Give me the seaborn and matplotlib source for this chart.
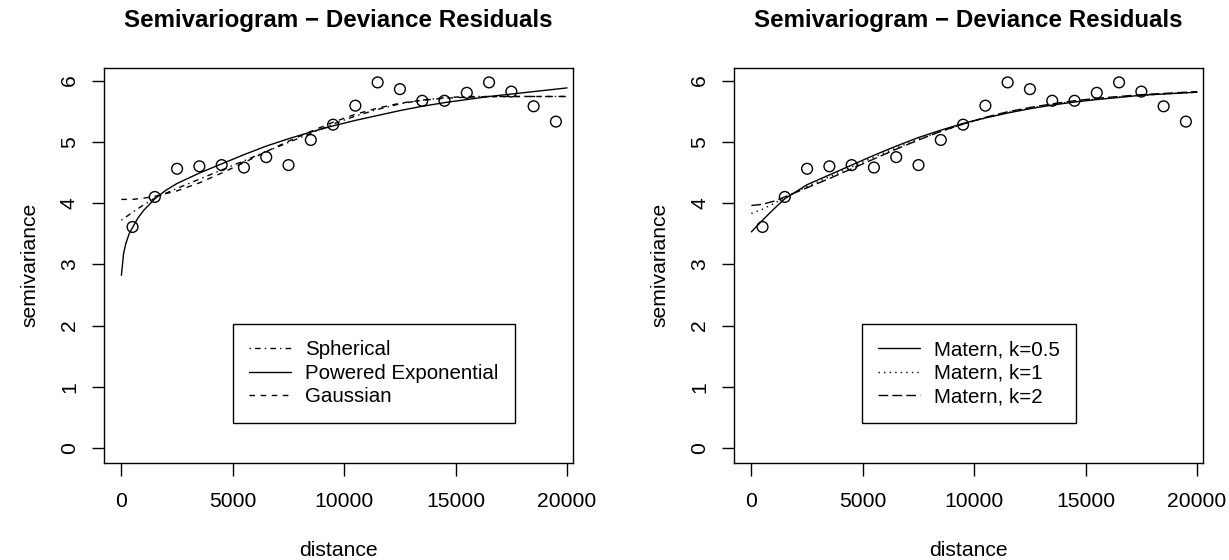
import numpy as np
import pandas as pd
import matplotlib
matplotlib.use("Agg")
import matplotlib.pyplot as plt
import seaborn as sns

# ---------------- data ----------------
dist = [500, 1500, 2500, 3500, 4500, 5500, 6500, 7500, 8500, 9500,
        10500, 11500, 12500, 13500, 14500, 15500, 16500, 17500, 18500, 19500]
semivar = [3.61, 4.10, 4.56, 4.60, 4.62, 4.58, 4.75, 4.62, 5.03, 5.28,
           5.59, 5.97, 5.86, 5.67, 5.67, 5.80, 5.97, 5.82, 5.58, 5.33]

# left panel fitted curves
powexp_x = [0, 100, 200, 350, 500, 750, 1000, 1500, 2000, 2500, 3500, 4500, 5500,
            6500, 7500, 8500, 9500, 10500, 11500, 12500, 13500, 14500, 15500,
            16500, 17500, 18500, 20000]
powexp_y = [2.82, 3.18, 3.34, 3.50, 3.60, 3.76, 3.88, 4.07, 4.21, 4.32, 4.49, 4.64, 4.79,
            4.93, 5.05, 5.16, 5.26, 5.35, 5.43, 5.51, 5.58, 5.64, 5.69,
            5.74, 5.78, 5.82, 5.88]

spher_x = [0, 500, 1000, 1500, 2500, 3500, 4500, 5500, 6500, 7500, 8500, 9500,
           10500, 11500, 12500, 13500, 14500, 15500, 20000]
spher_y = [3.72, 3.85, 3.97, 4.08, 4.24, 4.39, 4.54, 4.69, 4.84, 4.99, 5.14, 5.29,
           5.42, 5.53, 5.62, 5.68, 5.72, 5.74, 5.74]

gauss_x = [0, 500, 1000, 1500, 2500, 3500, 4500, 5500, 6500, 7500, 8500, 9500,
           10500, 11500, 12500, 13500, 14500, 15500, 17500, 20000]
gauss_y = [4.06, 4.06, 4.08, 4.11, 4.20, 4.33, 4.49, 4.66, 4.84, 5.01, 5.17, 5.32,
           5.45, 5.55, 5.63, 5.68, 5.71, 5.73, 5.74, 5.74]

# right panel fitted curves
mat_x = [0, 500, 1000, 1500, 2500, 3500, 4500, 5500, 6500, 7500, 8500, 9500,
         10500, 11500, 12500, 13500, 14500, 15500, 17500, 20000]
mat05_y = [3.53, 3.72, 3.90, 4.07, 4.30, 4.46, 4.62, 4.78, 4.93, 5.07, 5.19, 5.30,
           5.39, 5.47, 5.54, 5.60, 5.65, 5.69, 5.76, 5.81]
mat1_y = [3.83, 3.90, 3.99, 4.09, 4.27, 4.43, 4.59, 4.75, 4.90, 5.04, 5.17, 5.29,
          5.39, 5.48, 5.55, 5.61, 5.66, 5.70, 5.76, 5.81]
mat2_y = [3.96, 3.98, 4.03, 4.10, 4.25, 4.40, 4.56, 4.72, 4.88, 5.03, 5.17, 5.29,
          5.40, 5.49, 5.56, 5.62, 5.67, 5.71, 5.77, 5.82]

title = "Semivariogram \u2212 Deviance Residuals"
xticks = [0, 5000, 10000, 15000, 20000]
yticks = [0, 1, 2, 3, 4, 5, 6]

# ---------------- style ----------------
sns.set_theme(style="ticks")
plt.rcParams['font.family'] = ['Liberation Sans', 'DejaVu Sans']
plt.rcParams['axes.edgecolor'] = 'black'
plt.rcParams['axes.linewidth'] = 1.0
plt.rcParams['xtick.color'] = 'black'
plt.rcParams['ytick.color'] = 'black'
plt.rcParams['text.color'] = 'black'
plt.rcParams['axes.labelcolor'] = 'black'

FS = 15.2
LFS = 14.8
W, H = 1229, 560
fig = plt.figure(figsize=(W / 100, H / 100), dpi=100)

ax_pos = [(104 / W, 97.3 / H, 469.3 / W, 395 / H),
          (734 / W, 97.3 / H, 469.3 / W, 395 / H)]

SOLID = '-'
DOTDASH = (0, (1, 3, 4, 3))
DASHED = (0, (4, 4))
DOTTED = (0, (1, 3))
LONGDASH = (0, (7, 3))

panels = [
    [("Spherical", spher_x, spher_y, DOTDASH),
     ("Powered Exponential", powexp_x, powexp_y, SOLID),
     ("Gaussian", gauss_x, gauss_y, DASHED)],
    [("Matern, k=0.5", mat_x, mat05_y, SOLID),
     ("Matern, k=1", mat_x, mat1_y, DOTTED),
     ("Matern, k=2", mat_x, mat2_y, LONGDASH)],
]

pts = pd.DataFrame({"distance": dist, "semivariance": semivar})

for i, pos in enumerate(ax_pos):
    ax = fig.add_axes(pos)
    sns.scatterplot(data=pts, x="distance", y="semivariance", ax=ax,
                    marker='o', s=60, facecolors='none', edgecolor='black',
                    linewidth=1.0, zorder=3)
    handles = []
    for name, xs, ys, ls in panels[i]:
        sns.lineplot(x=xs, y=ys, ax=ax, color='black', linestyle=ls,
                     linewidth=1.0, sort=False, estimator=None)
        handles.append(matplotlib.lines.Line2D([], [], color='black',
                                               linestyle=ls, linewidth=1.0,
                                               label=name))
    ax.set_xlim(-780, 20280)
    ax.set_ylim(-0.239, 6.21)
    ax.set_xticks(xticks)
    ax.set_xticklabels([str(t) for t in xticks])
    ax.set_yticks(yticks)
    ax.set_yticklabels([str(t) for t in yticks])
    ax.tick_params(axis='both', length=9, width=1.0, labelsize=FS, direction='out')
    ax.tick_params(axis='x', pad=12)
    ax.tick_params(axis='y', pad=9, labelrotation=90)
    for lab in ax.get_yticklabels():
        lab.set_va('center')
    for sp in ax.spines.values():
        sp.set_visible(True)
        sp.set_color('black')
    ax.set_xlabel("distance", fontsize=FS, labelpad=22)
    ax.set_ylabel("semivariance", fontsize=FS, labelpad=15)
    ax.set_title(title, fontsize=17.4, fontweight='bold', pad=29)
    leg = ax.legend(handles=handles, loc='upper left',
                    bbox_to_anchor=((233 - 104) / 469.3 if i == 0 else (862 - 734) / 469.3,
                                    (462.7 - 324) / 395),
                    borderaxespad=0, fontsize=LFS, frameon=True, fancybox=False,
                    edgecolor='black', framealpha=1, borderpad=0.8,
                    labelspacing=0.22, handlelength=2.0, handletextpad=0.7)
    leg.get_frame().set_linewidth(1.0)

fig.savefig("out.png", dpi=100)
